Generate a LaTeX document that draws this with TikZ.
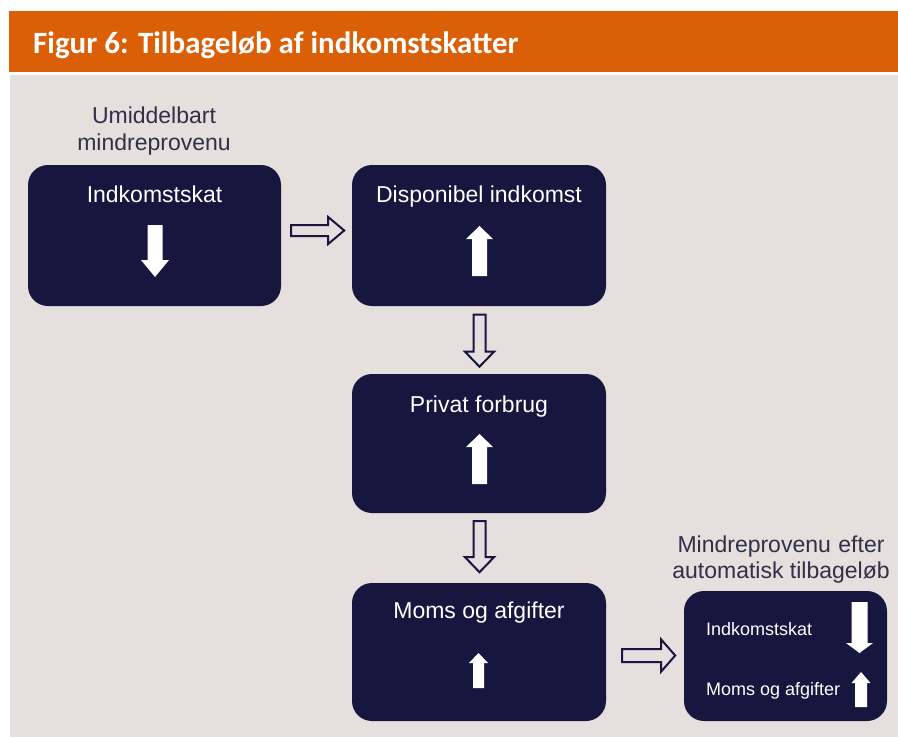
\documentclass[tikz,border=0pt]{standalone}
\usepackage{fontspec}
\setmainfont{Liberation Sans}
\newfontfamily\titlefont{Carlito}
\usetikzlibrary{calc}
\definecolor{orangeband}{HTML}{DA5F07}
\definecolor{bggrey}{HTML}{E5DFDD}
\definecolor{navy}{HTML}{16163F}
\definecolor{labelcol}{HTML}{303048}
\tikzset{
  box/.style={fill=navy, rounded corners=20pt, inner sep=0pt, draw=none},
  boxtext/.style={text=white, font=\fontsize{23}{27}\selectfont, anchor=base, inner sep=0pt},
  smalltext/.style={text=white, font=\fontsize{18}{22}\selectfont, anchor=base west, inner sep=0pt},
  labeltext/.style={text=labelcol, font=\fontsize{23}{27}\selectfont, anchor=base, inner sep=0pt},
  hollow/.style={draw=navy, line width=2pt, fill=bggrey, line join=miter},
  solidarrow/.style={fill=white, draw=none},
}
% #1 style, #2 start (left, centre), #3 length, #4 half shaft, #5 half head, #6 head length
\newcommand{\rightarrowshape}[6]{%
  \path[#1] (#2) ++(0,-#4) -- ++({#3-#6},0) -- ++(0,{-(#5-#4)}) -- ++(#6,#5)
    -- ++(-#6,#5) -- ++(0,{-(#5-#4)}) -- ++({-(#3-#6)},0) -- cycle;}
% #2 start = top centre
\newcommand{\downarrowshape}[6]{%
  \path[#1] (#2) ++(-#4,0) -- ++(0,{#3-#6}) -- ++({-(#5-#4)},0) -- ++(#5,#6)
    -- ++(#5,-#6) -- ++({-(#5-#4)},0) -- ++(0,{-(#3-#6)}) -- cycle;}
% #2 start = bottom centre
\newcommand{\uparrowshape}[6]{%
  \path[#1] (#2) ++(-#4,0) -- ++(0,{-(#3-#6)}) -- ++({-(#5-#4)},0) -- ++(#5,-#6)
    -- ++(#5,#6) -- ++({-(#5-#4)},0) -- ++(0,{#3-#6}) -- cycle;}
\begin{document}
\begin{tikzpicture}[x=1pt, y=-1pt]
  \useasboundingbox (0,0) rectangle (898,737);
  \fill[white] (0,0) rectangle (898,737);
  \fill[orangeband] (9,11) rectangle (898,72);
  \fill[bggrey] (10,75) rectangle (898,737);
  \node[anchor=base west, inner sep=0pt, text=white, font=\titlefont\bfseries\fontsize{31}{35}\selectfont] (title) at (33,53) {Figur 6: Tilbageløb af indkomstskatter};

  % boxes
  \node[box, minimum width=253pt, minimum height=141pt] (b1) at (154.5,235.5) {};
  \node[box, minimum width=254pt, minimum height=141pt] (b2) at (479,235.5) {};
  \node[box, minimum width=254pt, minimum height=139pt] (b3) at (479,443.5) {};
  \node[box, minimum width=254pt, minimum height=138pt] (b4) at (479,652) {};
  \node[box, minimum width=203pt, minimum height=130pt] (b5) at (785.5,656) {};

  % labels above
  \node[labeltext] (l1a) at (154,123) {Umiddelbart};
  \node[labeltext] (l1b) at (154,150) {mindreprovenu};
  \node[labeltext] (l2a) at (781,552) {\makebox[207pt][s]{Mindreprovenu efter}};
  \node[labeltext] (l2b) at (781,578) {automatisk tilbageløb};

  % box texts
  \node[boxtext] (t1) at (154.5,202) {Indkomstskat};
  \node[boxtext] (t2) at (479,202) {Disponibel indkomst};
  \node[boxtext] (t3) at (479,412) {Privat forbrug};
  \node[boxtext] (t4) at (479,618) {Moms og afgifter};
  \node[smalltext] (t5a) at (706,635) {Indkomstskat};
  \node[smalltext] (t5b) at (706,695) {Moms og afgifter};

  % white arrows inside boxes
  \downarrowshape{solidarrow}{$(b1.center)+(0.5,-10.5)$}{52}{7.5}{14}{17}
  \uparrowshape{solidarrow}{$(b2.center)+(0.5,40.5)$}{50}{7.5}{13.5}{13}
  \uparrowshape{solidarrow}{$(b3.center)+(0.5,40.5)$}{50}{7.5}{13.5}{13}
  \uparrowshape{solidarrow}{$(b4.center)+(-0.5,36)$}{35}{5.5}{9.5}{10}
  \downarrowshape{solidarrow}{$(b5.center)+(74,-54)$}{51}{8}{13.5}{10}
  \uparrowshape{solidarrow}{$(b5.center)+(75.5,51)$}{35}{6}{9.5}{11}

  % hollow connector arrows
  \rightarrowshape{hollow}{$(b1.east)+(10,-5)$}{53}{5.5}{13.5}{16}
  \downarrowshape{hollow}{$(b2.south)+(0.5,8.5)$}{52}{6}{14.5}{15}
  \downarrowshape{hollow}{$(b3.south)+(0.5,8)$}{51}{6}{14.5}{15}
  \rightarrowshape{hollow}{$(b4.east)+(16,3.5)$}{53}{6.5}{16}{14}
\end{tikzpicture}
\end{document}
